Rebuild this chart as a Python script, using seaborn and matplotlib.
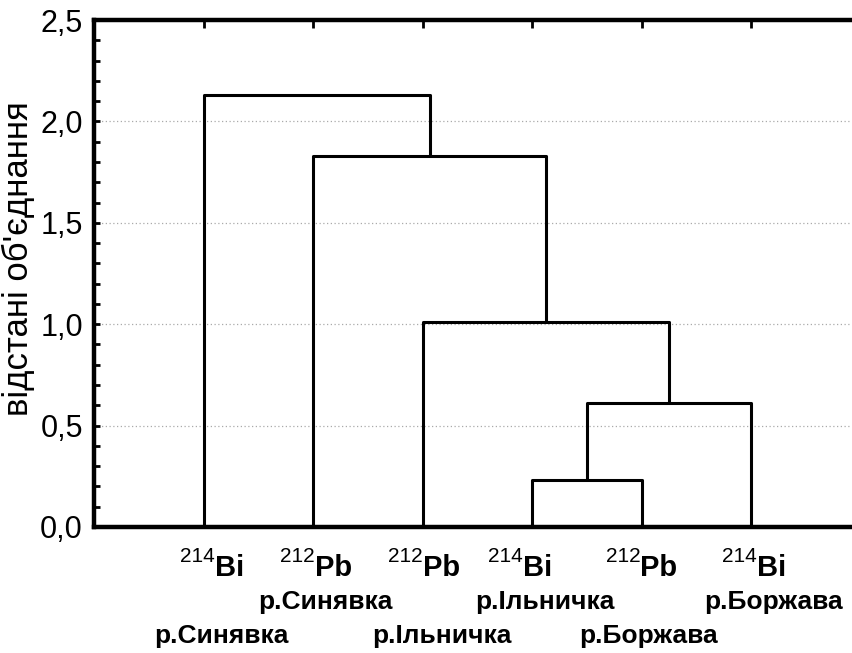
import matplotlib
matplotlib.use('Agg')
import matplotlib.pyplot as plt
import pandas as pd
import seaborn as sns
from matplotlib.ticker import FuncFormatter, MultipleLocator

sns.set_style('white')
plt.rcParams['font.family'] = ['Liberation Sans', 'DejaVu Sans']
plt.rcParams['text.color'] = 'black'
plt.rcParams['axes.labelcolor'] = 'black'
plt.rcParams['xtick.color'] = 'black'
plt.rcParams['ytick.color'] = 'black'

# Leaves in display order
leaf_mass = ['214', '212', '212', '214', '212', '214']
leaf_element = ['Bi', 'Pb', 'Pb', 'Bi', 'Pb', 'Bi']
leaf_river = ['р.Синявка', 'р.Синявка', 'р.Ільничка', 'р.Ільничка', 'р.Боржава', 'р.Боржава']

# Linkage: node ids 0-5 are leaves, 6+ are merged clusters
merge_left = [3, 6, 2, 1, 0]
merge_right = [4, 5, 7, 8, 9]
merge_height = [0.23, 0.61, 1.01, 1.83, 2.13]

# label placement tweaks (points), as hand-placed in the original
iso_shift = [8, 1, 0, -7, -1, 4]
river_shift = [13, 9, 14, 9, 5, 16]
river_row = [1, 0, 1, 0, 1, 0]

n_leaves = len(leaf_element)
pos = {i: i + 1 for i in range(n_leaves)}
hgt = {i: 0.0 for i in range(n_leaves)}
rows = []
for k, (a, b, h) in enumerate(zip(merge_left, merge_right, merge_height)):
    node = n_leaves + k
    xs = [pos[a], pos[a], pos[b], pos[b]]
    ys = [hgt[a], h, h, hgt[b]]
    for j, (x, y) in enumerate(zip(xs, ys)):
        rows.append({'link': k, 'order': j, 'x': x, 'y': y})
    pos[node] = (pos[a] + pos[b]) / 2
    hgt[node] = h
links = pd.DataFrame(rows)

fig = plt.figure(figsize=(8.52, 6.53), dpi=100)
ax = fig.add_axes([94 / 852, 126 / 653, 767 / 852, 507 / 653])

sns.lineplot(data=links, x='x', y='y', units='link', estimator=None, sort=False,
             color='black', linewidth=2.2, ax=ax)

ax.set_xlim(0, n_leaves + 1)
ax.set_ylim(0, 2.5)

ax.yaxis.set_major_locator(MultipleLocator(0.5))
ax.yaxis.set_minor_locator(MultipleLocator(0.1))
ax.yaxis.set_major_formatter(FuncFormatter(lambda v, p: f'{v:.1f}'.replace('.', ',')))
ax.grid(axis='y', which='major', linestyle=(0, (1, 2)), color='#aaaaaa', linewidth=0.9)
ax.grid(axis='x', visible=False)

ax.set_xticks([pos[i] for i in range(n_leaves)])
ax.set_xticklabels([])
ax.tick_params(axis='x', which='both', bottom=False, top=True, direction='in',
               length=6, width=2, labelbottom=False, labeltop=False)
ax.tick_params(axis='y', which='both', left=True, direction='in', length=4, width=2,
               labelsize=22, pad=8)

for side in ['left', 'top', 'bottom', 'right']:
    ax.spines[side].set_linewidth(3.2)
    ax.spines[side].set_color('black')

ax.set_xlabel('')
ax.set_ylabel("відстані об'єднання", fontsize=25)
ax.yaxis.set_label_coords(-0.077, 0.53)

for i in range(n_leaves):
    x = pos[i]
    ax.annotate(leaf_element[i], xy=(x, 0), xycoords=('data', 'axes fraction'),
                xytext=(iso_shift[i], -35), textcoords='offset points',
                ha='left', va='baseline', fontsize=21, fontweight='bold')
    ax.annotate(leaf_mass[i], xy=(x, 0), xycoords=('data', 'axes fraction'),
                xytext=(iso_shift[i], -25), textcoords='offset points',
                ha='right', va='baseline', fontsize=15)
    ry = -83.5 if river_row[i] else -59
    ax.annotate(leaf_river[i], xy=(x, 0), xycoords=('data', 'axes fraction'),
                xytext=(river_shift[i], ry), textcoords='offset points',
                ha='center', va='baseline', fontsize=19, fontweight='bold')

fig.savefig('out.png', dpi=100, facecolor='white')
